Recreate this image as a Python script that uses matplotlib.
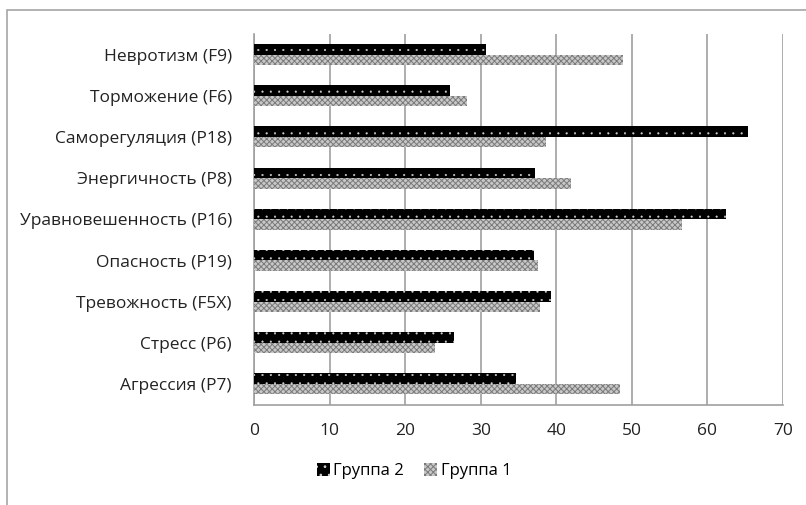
import matplotlib
matplotlib.use("Agg")
import matplotlib.pyplot as plt
import matplotlib.patches as patches
import numpy as np

plt.rcParams['font.family'] = ['Open Sans', 'DejaVu Sans']

# categories listed bottom to top
categories = ['Агрессия (P7)', 'Стресс (P6)', 'Тревожность (F5X)', 'Опасность (P19)',
              'Уравновешенность (P16)', 'Энергичность (P8)', 'Саморегуляция (P18)',
              'Торможение (F6)', 'Невротизм (F9)']
group2 = [34.7, 26.4, 39.3, 37.0, 62.4, 37.2, 65.4, 26.0, 30.7]
group1 = [48.4, 24.0, 37.8, 37.6, 56.6, 41.9, 38.7, 28.2, 48.8]
xticks = [0, 10, 20, 30, 40, 50, 60, 70]

fig = plt.figure(figsize=(8.06, 5.05), dpi=100)
ax = fig.add_axes([254/806, 1-404.5/505, (783-254)/806, (404.5-34)/505])

# outer chart border (only left and top edges show)
fig.patches.append(patches.Rectangle((7/806, -0.1), 1.2, 1.1 - 10/505,
                                     transform=fig.transFigure, fill=False,
                                     edgecolor='#a6a6a6', linewidth=1.2))

y = np.arange(len(categories))
h = 0.255
plt.rcParams['hatch.linewidth'] = 0.3
b2 = ax.barh(y + h/2, group2, height=h, color='black', edgecolor='#d0d0d0',
             linewidth=0, hatch='..', label='Группа 2', zorder=3)
plt.rcParams['hatch.linewidth'] = 0.7
b1 = ax.barh(y - h/2, group1, height=h, color='#c8c8c8', edgecolor='#7a7a7a',
             linewidth=0, hatch='xxxxxx', label='Группа 1', zorder=3)

ax.set_xlim(0, 70)
ax.set_ylim(-0.5, len(categories) - 0.5)
ax.set_xticks(xticks)
ax.set_yticks(y)
ax.set_yticklabels(categories)
ax.tick_params(axis='x', length=0, pad=13, labelsize=12.5, colors='#222222')
ax.tick_params(axis='y', length=0, pad=16, labelsize=12.5, colors='#222222')
ax.xaxis.grid(True, color='#a0a0a0', linewidth=1.2, zorder=0)
ax.set_axisbelow(True)
for s in ['top', 'right']:
    ax.spines[s].set_visible(False)
for s in ['left', 'bottom']:
    ax.spines[s].set_color('#a0a0a0')
    ax.spines[s].set_linewidth(1.2)

fig.legend(handles=[b2, b1], loc='center', bbox_to_anchor=(414/806, 1-471/505),
           ncol=2, frameon=False, fontsize=12, handlelength=0.8, handleheight=0.8,
           handletextpad=0.2, columnspacing=1.2)

fig.savefig('out.png', dpi=100)
